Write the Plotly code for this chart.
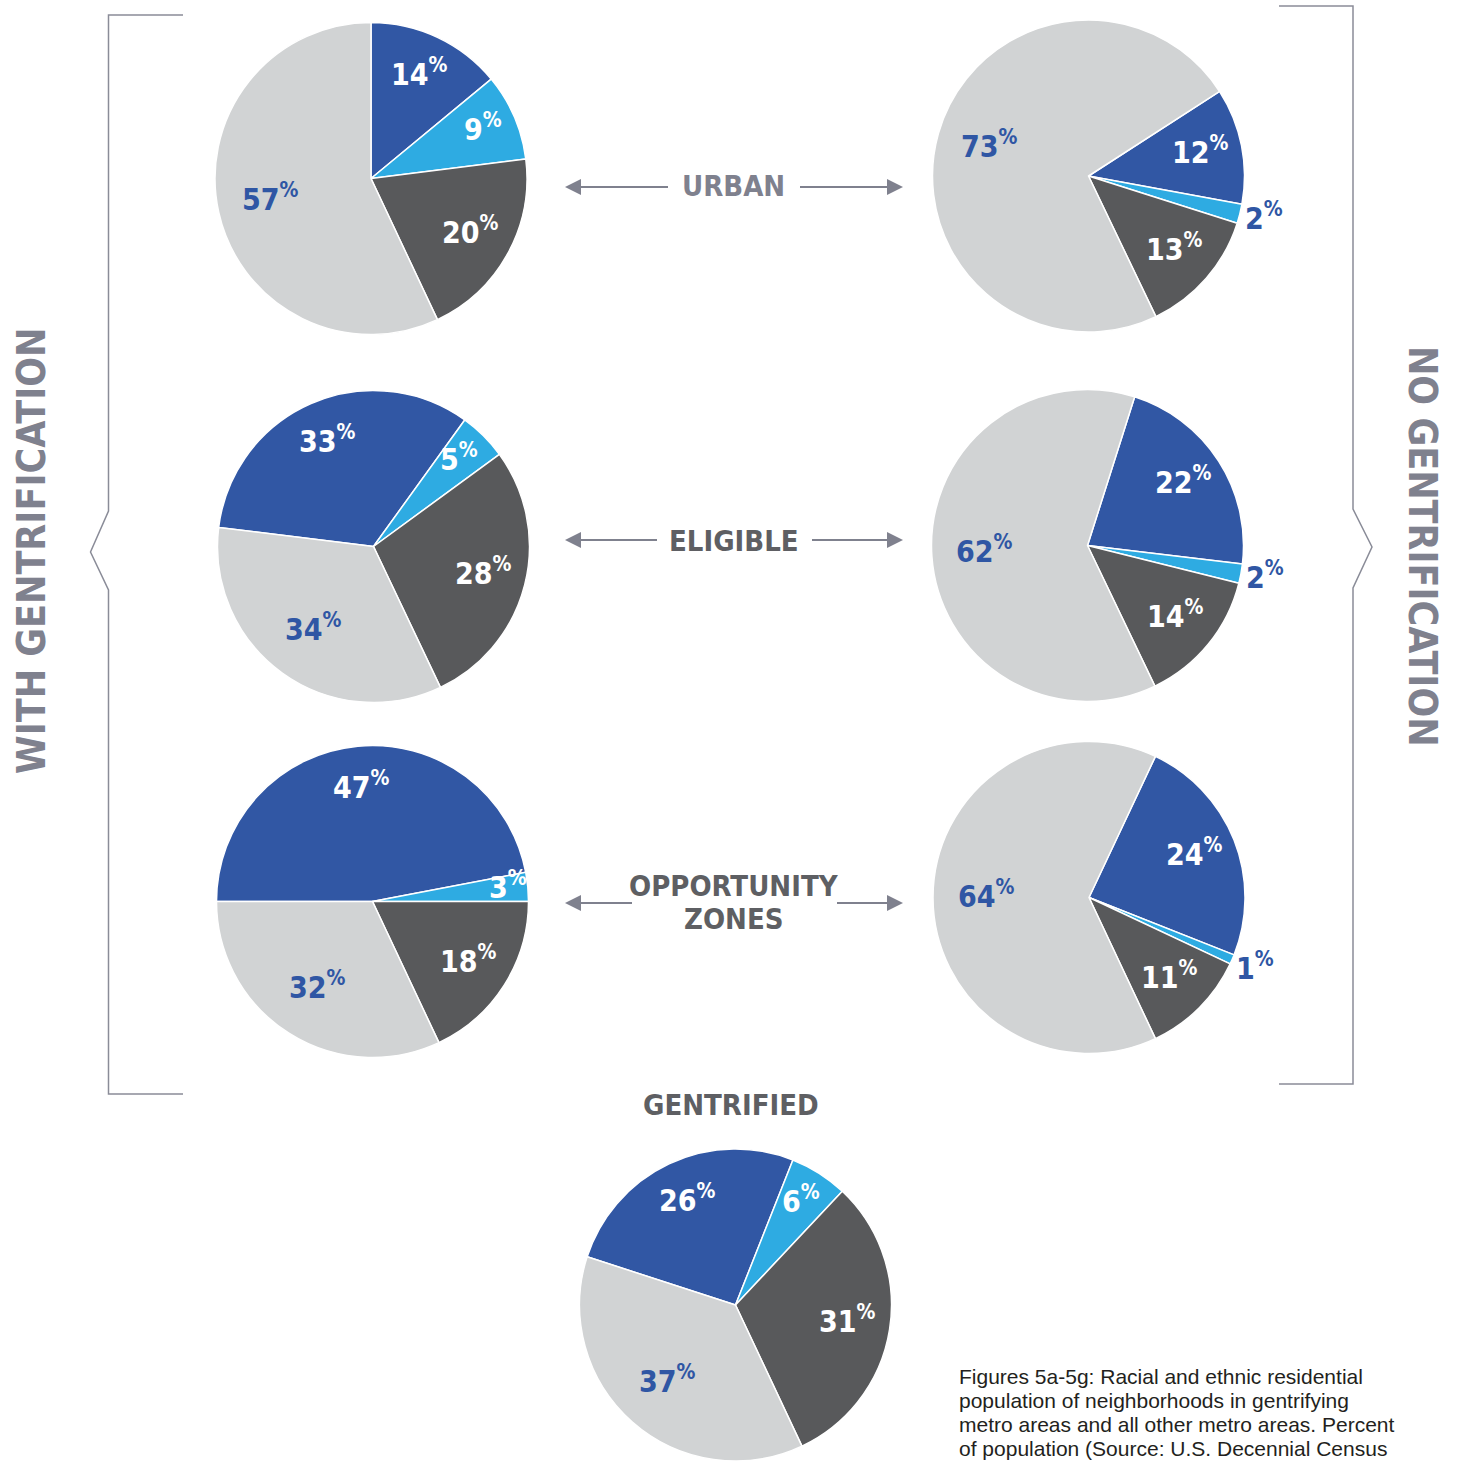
import plotly.graph_objects as go
import math

W, H = 1463, 1461

# ---------------- data ----------------
groups = ["Black", "Asian", "Hispanic", "White"]  # slice order (clockwise)
pie_names = ["Urban - with", "Urban - no", "Eligible - with", "Eligible - no",
             "OZ - with", "OZ - no", "Gentrified"]
urban_with = [14, 9, 20, 57]
urban_no = [12, 2, 13, 73]
eligible_with = [33, 5, 28, 34]
eligible_no = [22, 2, 14, 62]
oz_with = [47, 3, 18, 32]
oz_no = [24, 1, 11, 64]
gentrified = [26, 6, 31, 37]
all_values = [urban_with, urban_no, eligible_with, eligible_no, oz_with, oz_no, gentrified]

caption_lines = ["Figures 5a-5g: Racial and ethnic residential",
                 "population of neighborhoods in gentrifying",
                 "metro areas and all other metro areas. Percent",
                 "of population (Source: U.S. Decennial Census"]

# ---------------- layout / style ----------------
colors = ["#3157a4", "#2eabe2", "#58595b", "#d1d3d4"]
label_blue = "#2f56a4"
start_angle = [0, 57.2, -83, 17.6, -90, 25.2, -72]          # degrees clockwise from 12 o'clock
centers = [(371, 178.5), (1088.5, 176), (373.5, 546.5), (1087.5, 545.5),
           (372.5, 901.5), (1089, 897.5), (735.5, 1305)]
radius = 156

FONT_C = "DejaVu Sans Condensed, Liberation Sans Narrow, Arial Narrow, sans-serif"
FONT_R = "Liberation Sans, Arial, Helvetica, sans-serif"
gray_blue = "#7f818e"
dark_gray = "#5e5f63"

fig = go.Figure()

# hidden pixel axes for shapes / annotations
fig.add_trace(go.Scatter(x=[0, W], y=[0, H], mode="markers", marker=dict(opacity=0),
                         hoverinfo="skip", showlegend=False))

def clamp(v):
    return min(1.0, max(0.0, v))

annotations = []
for i, vals in enumerate(all_values):
    cx, cy = centers[i]
    fig.add_trace(go.Pie(
        values=vals, labels=groups, sort=False, direction="clockwise",
        rotation=start_angle[i], textinfo="none", hoverinfo="label+percent",
        marker=dict(colors=colors, line=dict(color="white", width=1.5)),
        domain=dict(x=[clamp((cx - radius) / W), clamp((cx + radius) / W)],
                    y=[clamp(1 - (cy + radius) / H), clamp(1 - (cy - radius) / H)]),
        showlegend=False, name=pie_names[i]))
    # labels
    total = sum(vals)
    acc = 0
    for j, v in enumerate(vals):
        mid = start_angle[i] + (acc + v / 2) / total * 360
        acc += v
        if v <= 2:
            f, col = 1.16, label_blue
        elif v < 5:
            f, col = 0.87, "white"
        elif v < 10:
            f, col = 0.78, "white"
        elif j == 3:
            f, col = 0.66, label_blue
        else:
            f, col = 0.73, "white"
        a = math.radians(mid)
        x = cx + f * radius * math.sin(a)
        y = cy - f * radius * math.cos(a) - 3
        annotations.append(dict(
            x=x, y=y, xref="x", yref="y", showarrow=False,
            text=f"<b>{v}<sup>%</sup></b>", xanchor="center", yanchor="middle",
            font=dict(family=FONT_C, size=30, color=col)))

# centre labels
def txt(x, y, s, size, color, **kw):
    d = dict(x=x, y=y, xref="x", yref="y", showarrow=False, text=s,
             xanchor="center", yanchor="middle",
             font=dict(family=FONT_C, size=size, color=color))
    d.update(kw)
    annotations.append(d)

txt(733, 186, "<b>URBAN</b>", 29, gray_blue)
txt(734, 541, "<b>ELIGIBLE</b>", 29, dark_gray)
txt(734, 886, "<b>OPPORTUNITY</b>", 29, dark_gray)
txt(734, 919, "<b>ZONES</b>", 29, dark_gray)
txt(731, 1105, "<b>GENTRIFIED</b>", 29, dark_gray)
txt(31, 551, "<b>WITH GENTRIFICATION</b>", 39, gray_blue, textangle=-90)
txt(1423, 546, "<b>NO GENTRIFICATION</b>", 39, gray_blue, textangle=90)

for k, line in enumerate(caption_lines):
    annotations.append(dict(
        x=957, y=1376 + 24 * k, xref="x", yref="y", showarrow=False,
        xanchor="left", yanchor="middle", align="left", text=line,
        font=dict(family=FONT_R, size=21, color="#231f20")))

shapes = []
line_col = "#8a8c98"
# arrows
arrow_rows = [(187, 668, 800), (540, 657, 812), (903, 632, 837)]
for y, lend, rstart in arrow_rows:
    shapes.append(dict(type="line", x0=578, x1=lend, y0=y, y1=y, xref="x", yref="y",
                       line=dict(color=gray_blue, width=2)))
    shapes.append(dict(type="line", x0=rstart, x1=890, y0=y, y1=y, xref="x", yref="y",
                       line=dict(color=gray_blue, width=2)))
    shapes.append(dict(type="path", xref="x", yref="y",
                       path=f"M565,{y} L581,{y-8} L581,{y+8} Z",
                       fillcolor=gray_blue, line=dict(width=0)))
    shapes.append(dict(type="path", xref="x", yref="y",
                       path=f"M903,{y} L887,{y-8} L887,{y+8} Z",
                       fillcolor=gray_blue, line=dict(width=0)))
# brackets
shapes.append(dict(type="path", xref="x", yref="y",
                   path="M183,15 L108.5,15 L108.5,511 L90.5,552 L108.5,590 L108.5,1094 L183,1094",
                   line=dict(color=line_col, width=1.5)))
shapes.append(dict(type="path", xref="x", yref="y",
                   path="M1279,6 L1353,6 L1353,509 L1372,547 L1353,588 L1353,1084 L1279,1084",
                   line=dict(color=line_col, width=1.5)))

fig.update_layout(
    width=W, height=H, margin=dict(l=0, r=0, t=0, b=0),
    paper_bgcolor="white", plot_bgcolor="white",
    xaxis=dict(range=[0, W], visible=False, fixedrange=True),
    yaxis=dict(range=[H, 0], visible=False, fixedrange=True),
    annotations=annotations, shapes=shapes, showlegend=False)

fig.write_html("out.html", config={"displayModeBar": False},
               post_script="document.body.style.margin='0';document.body.style.overflow='hidden';")
